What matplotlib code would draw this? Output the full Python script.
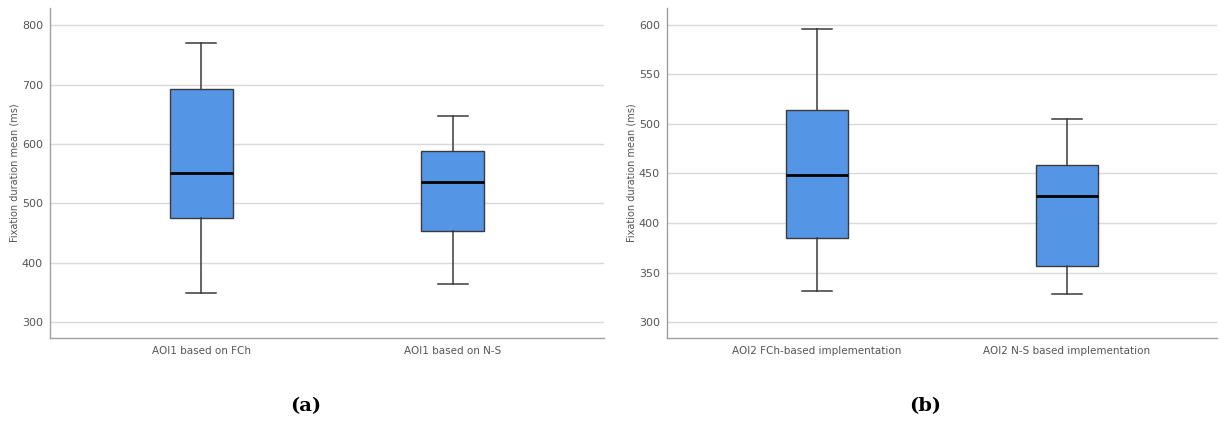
from matplotlib import pyplot as plt

# five-number summaries (whisker low, Q1, median, Q3, whisker high)
labels_a = ["AOI1 based on FCh", "AOI1 based on N-S"]
low_a    = [348, 364]
q1_a     = [475, 454]
med_a    = [551, 536]
q3_a     = [693, 588]
high_a   = [770, 647]

labels_b = ["AOI2 FCh-based implementation", "AOI2 N-S based implementation"]
low_b    = [331, 328]
q1_b     = [385, 357]
med_b    = [448, 427]
q3_b     = [514, 459]
high_b   = [596, 505]

yticks_a = [300, 400, 500, 600, 700, 800]
yticks_b = [300, 350, 400, 450, 500, 550, 600]

BOX_BLUE = "#5595e5"
EDGE = "#3a3a3a"
GRID = "#d9d9d9"
SPINE = "#a0a0a0"
TXT = "#555555"


def make_stats(labels, low, q1, med, q3, high):
    stats = []
    for i in range(len(labels)):
        stats.append(dict(label=labels[i], whislo=low[i], q1=q1[i], med=med[i],
                          q3=q3[i], whishi=high[i], fliers=[]))
    return stats


def draw_panel(ax, stats, yticks, ylim):
    ax.bxp(stats, positions=[0, 1], widths=0.25, patch_artist=True, showfliers=False,
           boxprops=dict(facecolor=BOX_BLUE, edgecolor=EDGE, linewidth=1.0),
           whiskerprops=dict(color=EDGE, linewidth=1.1),
           capprops=dict(color=EDGE, linewidth=1.1),
           capwidths=0.12,
           medianprops=dict(color="black", linewidth=2.0))
    ax.set_xlim(-0.6, 1.6)
    ax.set_ylim(*ylim)
    ax.set_yticks(yticks)
    ax.yaxis.grid(True, color=GRID, linewidth=1.0)
    ax.set_axisbelow(True)
    for s in ["top", "right"]:
        ax.spines[s].set_visible(False)
    for s in ["left", "bottom"]:
        ax.spines[s].set_color(SPINE)
        ax.spines[s].set_linewidth(1.0)
    ax.tick_params(axis="y", length=0, labelsize=8, labelcolor=TXT, pad=5)
    ax.tick_params(axis="x", length=0, labelsize=7.5, labelcolor=TXT, pad=6)
    ax.set_ylabel("Fixation duration mean (ms)", fontsize=7, color=TXT, labelpad=2)


fig = plt.figure(figsize=(12.19, 4.23), dpi=100)
ax1 = fig.add_axes([50/1219, 1 - 338/423, 554/1219, 330/423])
ax2 = fig.add_axes([667/1219, 1 - 338/423, 550/1219, 330/423])

draw_panel(ax1, make_stats(labels_a, low_a, q1_a, med_a, q3_a, high_a), yticks_a, (273, 829))
draw_panel(ax2, make_stats(labels_b, low_b, q1_b, med_b, q3_b, high_b), yticks_b, (284, 617))

fig.text(306/1219, 1 - 406/423, "(a)", ha="center", va="center", fontsize=14,
         fontweight="bold", family="DejaVu Serif")
fig.text(925/1219, 1 - 406/423, "(b)", ha="center", va="center", fontsize=14,
         fontweight="bold", family="DejaVu Serif")

fig.savefig("out.png", dpi=100)
